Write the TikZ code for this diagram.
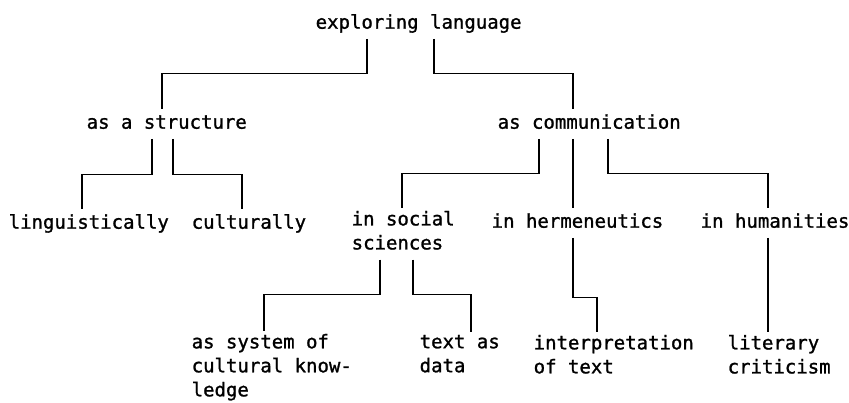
\documentclass[tikz,border=0pt]{standalone}
\usepackage{fontspec}
\newfontfamily\treefont[FakeBold=1.2]{DejaVu Sans Mono}
\usepackage{tikz}

\begin{document}
\begin{tikzpicture}[x=1pt, y=-1pt, line width=1.4pt,
  lbl/.style={font=\treefont\fontsize{19}{24}\selectfont, inner xsep=0pt, inner ysep=2.2pt, anchor=north west, align=left, execute at begin node=\strut, execute at end node=\strut}]
\useasboundingbox (0,0) rectangle (849,403);
\node[lbl] (root) at (315,9) {exploring language};
\node[lbl] (struct) at (86,109) {as a structure};
\node[lbl] (comm) at (497,109) {as communication};
\node[lbl] (ling) at (8,209) {linguistically};
\node[lbl] (cult) at (191,209) {culturally};
\node[lbl] (soc) at (351,208) {in social\\sciences};
\node[lbl] (herm) at (491,208) {in hermeneutics};
\node[lbl] (hum) at (700,208) {in humanities};
\node[lbl] (sys) at (191,331) {as system of\\cultural know-\\ledge};
\node[lbl] (data) at (419,332) {text as\\data};
\node[lbl] (interp) at (533,332) {interpretation\\of text};
\node[lbl] (lit) at (727,332) {literary\\criticism};
\draw ([xshift=52]root.south west) -- ++(0,35) -| ([xshift=76]struct.north west);
\draw ([xshift=119]root.south west) -- ++(0,35) -| ([xshift=76]comm.north west);
\draw ([xshift=66]struct.south west) -- ++(0,36) -| ([xshift=74]ling.north west);
\draw ([xshift=87]struct.south west) -- ++(0,36) -| ([xshift=51]cult.north west);
\draw ([xshift=42]comm.south west) -- ++(0,35) -| ([xshift=51]soc.north west);
\draw ([xshift=76]comm.south west) -- ([xshift=82]herm.north west);
\draw ([xshift=111]comm.south west) -- ++(0,35) -| ([xshift=68]hum.north west);
\draw ([xshift=29]soc.south west) -- ++(0,35) -| ([xshift=73]sys.north west);
\draw ([xshift=62]soc.south west) -- ++(0,35) -| ([xshift=52]data.north west);
\draw ([xshift=82]herm.south west) -- ++(0,60) -| ([xshift=64]interp.north west);
\draw ([xshift=68]hum.south west) -- ([xshift=41]lit.north west);
\end{tikzpicture}
\end{document}
